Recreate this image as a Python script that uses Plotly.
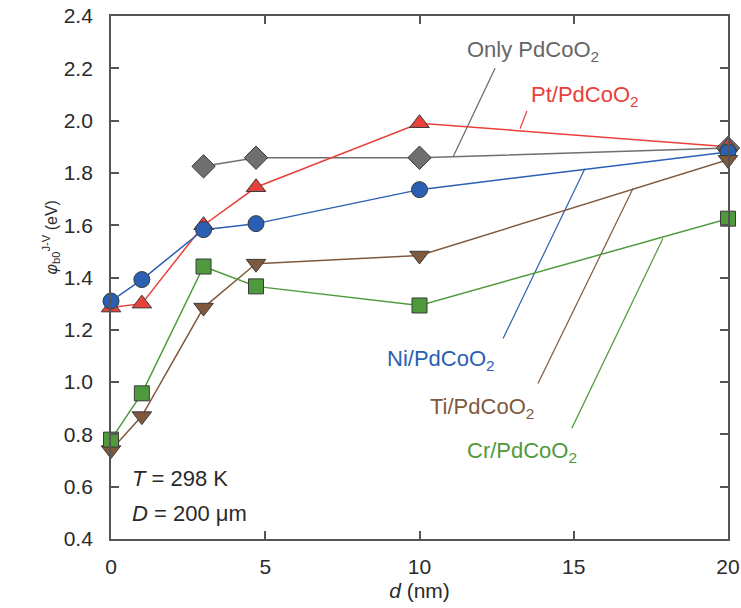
import plotly.graph_objects as go

# Barrier height vs. interlayer thickness for each contact stack
d_only = [3, 4.7, 10, 20]
phi_only = [1.825, 1.858, 1.858, 1.895]

d_metal = [0, 1, 3, 4.7, 10, 20]
phi_pt = [1.285, 1.30, 1.60, 1.745, 1.99, 1.90]
phi_ni = [1.31, 1.392, 1.583, 1.606, 1.736, 1.88]
phi_ti = [0.74, 0.87, 1.285, 1.453, 1.484, 1.85]
phi_cr = [0.78, 0.957, 1.442, 1.366, 1.293, 1.625]

y_ticks = [0.4, 0.6, 0.8, 1.0, 1.2, 1.4, 1.6, 1.8, 2.0, 2.2, 2.4]
x_ticks = [0, 5, 10, 15, 20]

FONT = "Liberation Sans, Arial, sans-serif"
EDGE = "#3a3a3a"
TXT = "#2a2a2a"

series = [
    ("Only PdCoO<sub>2</sub>", d_only, phi_only, "#6f6f6f", "diamond", 18),
    ("Pt/PdCoO<sub>2</sub>", d_metal, phi_pt, "#e8403a", "triangle-up", 17),
    ("Ni/PdCoO<sub>2</sub>", d_metal, phi_ni, "#2b5fb3", "circle", 16),
    ("Ti/PdCoO<sub>2</sub>", d_metal, phi_ti, "#80593c", "triangle-down", 17),
    ("Cr/PdCoO<sub>2</sub>", d_metal, phi_cr, "#4f9a3c", "square", 15),
]

fig = go.Figure()
# draw lines first so markers sit on top
for name, xs, ys, col, sym, size in series:
    fig.add_trace(go.Scatter(
        x=xs, y=ys, mode="lines", name=name,
        line=dict(color=col, width=1.5), cliponaxis=False, showlegend=False,
        hoverinfo="skip"))
for name, xs, ys, col, sym, size in series:
    fig.add_trace(go.Scatter(
        x=xs, y=ys, mode="markers", name=name,
        marker=dict(color=col, symbol=sym, size=size,
                    line=dict(color=EDGE, width=1)),
        cliponaxis=False, showlegend=False))

# leader lines and labels: (text, colour, text x, text y, line start, line end)
labels = [
    ("Only PdCoO<sub>2</sub>", "#666666", 13.68, 2.266, (12.45, 2.20), (11.09, 1.862)),
    ("Pt/PdCoO<sub>2</sub>", "#e8403a", 15.36, 2.095, (13.48, 2.037), (13.26, 1.969)),
    ("Ni/PdCoO<sub>2</sub>", "#2b5fb3", 10.70, 1.083, (12.71, 1.167), (15.36, 1.816)),
    ("Ti/PdCoO<sub>2</sub>", "#80593c", 12.02, 0.90, (13.84, 0.995), (16.92, 1.740)),
    ("Cr/PdCoO<sub>2</sub>", "#4f9a3c", 13.32, 0.732, (14.94, 0.824), (17.89, 1.549)),
]
for text, col, tx, ty, p0, p1 in labels:
    fig.add_shape(type="line", x0=p0[0], y0=p0[1], x1=p1[0], y1=p1[1],
                  line=dict(color=col, width=1.2), layer="below")
    fig.add_annotation(x=tx, y=ty, text=text, showarrow=False,
                       font=dict(family=FONT, size=22, color=col))

fig.add_annotation(x=0.031, y=0.087, xref="paper", yref="paper", xanchor="left",
                   text="<i>T</i> = 298 K", showarrow=False,
                   font=dict(family=FONT, size=22, color=TXT))
fig.add_annotation(x=0.031, y=0.021, xref="paper", yref="paper", xanchor="left",
                   text="<i>D</i> = 200 μm", showarrow=False,
                   font=dict(family=FONT, size=22, color=TXT))

# y-axis title, placed as a rotated annotation
fig.add_annotation(x=-0.118, y=0.577, xref="paper", yref="paper",
                   text="<i>φ</i><sub>b0</sub><sup>J-V</sup> (eV)", textangle=-90,
                   showarrow=False, font=dict(family=FONT, size=16, color=TXT))

axis_common = dict(
    showgrid=False, zeroline=False, showline=True, linecolor="#555",
    linewidth=1.8, mirror="ticks", ticks="inside", ticklen=8,
    tickwidth=1.5, tickcolor="#555", automargin=False,
    tickfont=dict(family=FONT, size=21, color=TXT),
)

fig.update_layout(
    width=741, height=608,
    margin=dict(l=111, r=13, t=16, b=69),
    plot_bgcolor="white", paper_bgcolor="white",
    xaxis=dict(range=[0, 20], tickvals=x_ticks, ticklabelstandoff=8,
               title=dict(text="<i>d</i> (nm)", standoff=6,
                          font=dict(family=FONT, size=21, color=TXT)),
               **axis_common),
    yaxis=dict(range=[0.4, 2.4], tickvals=y_ticks, tickformat=".1f",
               ticklabelstandoff=12, **axis_common),
)

fig.write_html("out.html")
